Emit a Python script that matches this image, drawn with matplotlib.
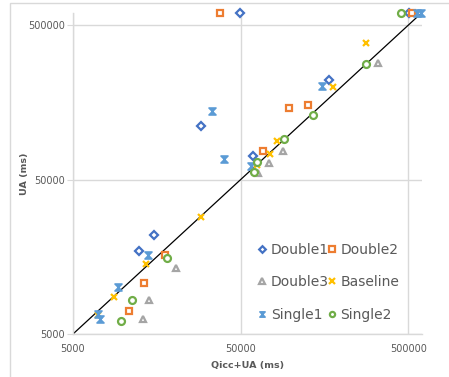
import matplotlib
matplotlib.use("Agg")
import matplotlib.pyplot as plt
from matplotlib.path import Path
from matplotlib.patches import Rectangle
from matplotlib.ticker import FixedLocator, NullLocator

# ---- data (ms) ----
double1_x = [12400, 15200, 29100, 58900, 168000, 49600, 505000]
double1_y = [17200, 21900, 110400, 71500, 222000, 600000, 600000]

double2_x = [10800, 13300, 17600, 68200, 96600, 126000, 37600, 523000]
double2_y = [7050, 10700, 16150, 76800, 145800, 151700, 600000, 600000]

double3_x = [13000, 14100, 20600, 63800, 73700, 89700, 329000]
double3_y = [6220, 8300, 13300, 55500, 64400, 77000, 282000]

baseline_x = [7020, 8780, 13700, 29100, 62500, 74700, 81800, 178000, 279000]
baseline_y = [6640, 8720, 14100, 28700, 61700, 72800, 88700, 199000, 381000]

single1_x = [7240, 7080, 9310, 13950, 33900, 39900, 57200, 153000, 562000, 595000]
single1_y = [6220, 6740, 10100, 16150, 138700, 67800, 61200, 203000, 600000, 600000]

single2_x = [9660, 11200, 18100, 60000, 62500, 90600, 135000, 278000, 449000]
single2_y = [6040, 8300, 15450, 56300, 65400, 91400, 130800, 278000, 600000]

axis_min = 5000
axis_max = 600000
tick_values = [5000, 50000, 500000]
tick_labels = ["5000", "50000", "500000"]

# ---- style ----
TXT = "#595959"
GRID = "#d9d9d9"

hourglass = Path([(-1, 1), (1, 1), (-1, -1), (1, -1), (-1, 1)],
                 [Path.MOVETO, Path.LINETO, Path.LINETO, Path.LINETO, Path.CLOSEPOLY])

fig = plt.figure(figsize=(4.49, 3.77), dpi=100)
ax = fig.add_axes([73 / 449, 1 - 334 / 377, (421.7 - 73) / 449, (334 - 12.8) / 377])

# outer chart border
fig.patches.append(Rectangle((10 / 449, -0.1), 1.2, (1 - 3 / 377) + 0.1,
                             transform=fig.transFigure, fill=False,
                             edgecolor="#d9d9d9", linewidth=1.0))

ax.set_xscale("log")
ax.set_yscale("log")
ax.set_xlim(axis_min, axis_max)
ax.set_ylim(axis_min, axis_max)

for v in tick_values:
    ax.axvline(v, color=GRID, lw=1.0, zorder=0)
    ax.axhline(v, color=GRID, lw=1.0, zorder=0)

ax.xaxis.set_major_locator(FixedLocator(tick_values))
ax.yaxis.set_major_locator(FixedLocator(tick_values))
ax.xaxis.set_minor_locator(NullLocator())
ax.yaxis.set_minor_locator(NullLocator())
ax.set_xticklabels(tick_labels)
ax.set_yticklabels(tick_labels)
ax.tick_params(axis="x", length=0, labelsize=7, labelcolor=TXT, pad=7)
ax.tick_params(axis="y", length=4, color=GRID, labelsize=7, labelcolor=TXT, pad=2)

for s in ["top", "right"]:
    ax.spines[s].set_visible(False)
for s in ["left", "bottom"]:
    ax.spines[s].set_color(GRID)
    ax.spines[s].set_linewidth(1.0)

# y = x reference line
ax.plot([axis_min, axis_max], [axis_min, axis_max], color="black", lw=0.9, zorder=1)

ms = 5.0
mew = 1.6
kw = dict(linestyle="none", clip_on=False, zorder=3)
h_d1, = ax.plot(double1_x, double1_y, marker="D", ms=4.5, mfc="white", mec="#4472C4", mew=mew, label="Double1", **kw)
h_d2, = ax.plot(double2_x, double2_y, marker="s", ms=ms, mfc="white", mec="#ED7D31", mew=mew, label="Double2", **kw)
h_d3, = ax.plot(double3_x, double3_y, marker="^", ms=ms, mfc="white", mec="#A5A5A5", mew=mew, label="Double3", **kw)
h_bl, = ax.plot(baseline_x, baseline_y, marker="x", ms=ms, color="#FFC000", mew=mew, label="Baseline", **kw)
h_s1, = ax.plot(single1_x, single1_y, marker=hourglass, ms=ms, mfc="#5B9BD5", mec="#5B9BD5", mew=1.2, label="Single1", **kw)
h_s2, = ax.plot(single2_x, single2_y, marker="o", ms=ms, mfc="white", mec="#70AD47", mew=mew, label="Single2", **kw)

# legend filled row-wise (matplotlib fills column-wise)
order = [h_d1, h_d3, h_s1, h_d2, h_bl, h_s2]
leg = ax.legend(handles=order, labels=[h.get_label() for h in order],
                ncol=2, loc="lower right", bbox_to_anchor=(0.972, 0.0), frameon=False,
                fontsize=10, handlelength=0.5, handletextpad=0.35, columnspacing=0.0,
                labelspacing=1.33, markerscale=0.75)
for t in leg.get_texts():
    t.set_color(TXT)

ax.set_xlabel("Qicc+UA (ms)", fontsize=6.8, fontweight="bold", color=TXT)
ax.set_ylabel("UA (ms)", fontsize=6.8, fontweight="bold", color=TXT)
ax.xaxis.set_label_coords(0.5, -(361 - 334) / 321.2)
ax.yaxis.set_label_coords((29 - 73) / 348.7, 0.5)

fig.savefig("out.png", dpi=100)
